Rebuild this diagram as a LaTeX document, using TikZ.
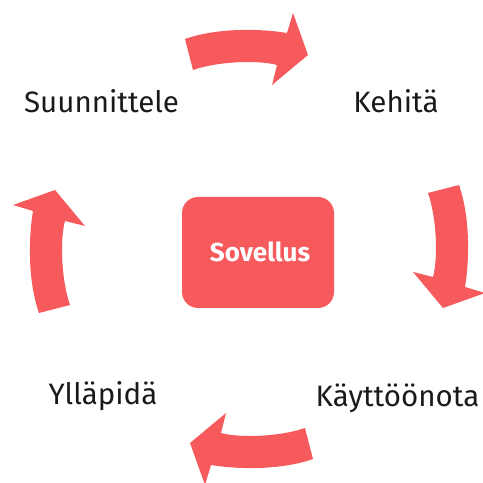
\documentclass[tikz,border=0pt]{standalone}
\usepackage{fontspec}
\setmainfont{Fira Sans}
\definecolor{coral}{RGB}{246,90,92}
\definecolor{ink}{RGB}{26,26,26}
\begin{document}
\begin{tikzpicture}[x=1pt,y=1pt,
  cyclearrow/.style={fill=coral},
  stage/.style={font=\fontsize{29.5}{34}\selectfont, text=ink, anchor=base, inner sep=0pt},
  hub/.style={fill=coral, rounded corners=16pt, minimum width=152pt, minimum height=111pt, inner sep=0pt}]
\useasboundingbox (0,0) rectangle (483,483);
\clip (0,0) rectangle (483,483);
% four curved arrows, each a quarter turn from the last
\foreach \ang in {0,-90,-180,-270}{
  \fill[cyclearrow, shift={(249,234)}, rotate=\ang]
    (-64,210) .. controls (-30,222) and (15,220) .. (38,216)
    -- (44,236) -- (59,194) -- (23,164) -- (28,184)
    .. controls (10,189) and (-30,188) .. (-56,179) -- cycle;
}
% central box
\node[hub] (app) at (258,230.5) {};
\node[text=white, font=\bfseries\fontsize{26}{30}\selectfont, anchor=base, inner sep=0pt] (applabel) at (260,221) {Sovellus};
% stage labels
\node[stage] (plan) at (101.5,370) {Suunnittele};
\node[stage] (dev) at (396,370) {Kehitä};
\node[stage] (deploy) at (397.5,76) {Käyttöönota};
\node[stage] (maintain) at (103,78) {Ylläpidä};
\end{tikzpicture}
\end{document}
